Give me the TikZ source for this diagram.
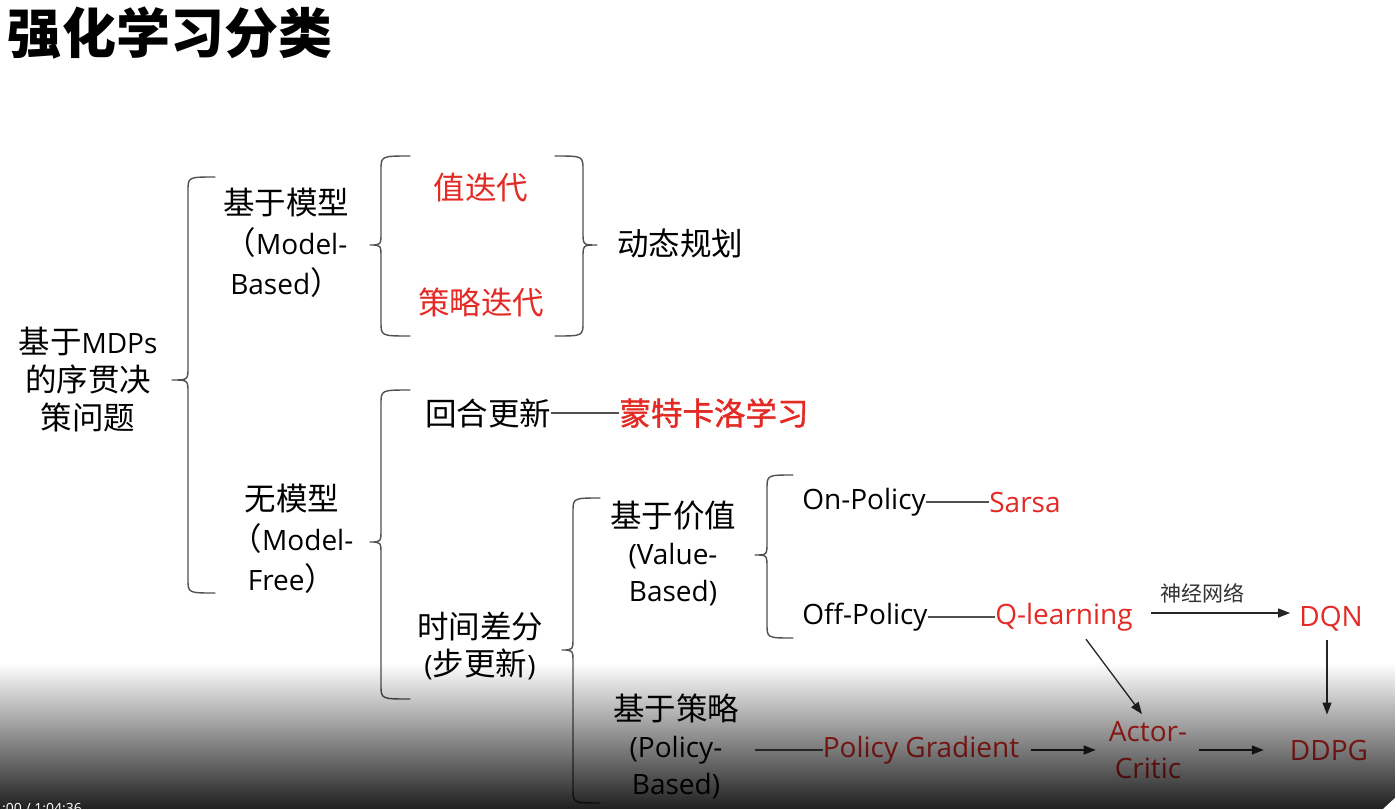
\documentclass[tikz,border=0pt]{standalone}
\usepackage{fontspec}
\setmainfont{Noto Sans CJK SC}
\newfontfamily\lat{Open Sans}
\newfontfamily\cjkb[FakeBold=1.2]{Noto Sans CJK SC}
\usetikzlibrary{arrows.meta,fadings}
\definecolor{myred}{RGB}{228,42,36}
\definecolor{linegray}{RGB}{80,80,80}
\tikzfading[name=vfade, top color=transparent!100, bottom color=transparent!12]
\newcommand\LT[1]{{\lat\fontsize{28}{40}\selectfont #1}}
% brace: tip x, vertical x, end x, top y, mid y, bottom y
\newcommand\mybrace[6]{%
  \draw[brc] (#3,#4) .. controls (#2,#4) .. ({#2},{#4+14}) -- ({#2},{#5-13})
    .. controls (#2,#5) .. (#1,#5) .. controls (#2,#5) .. ({#2},{#5+13})
    -- ({#2},{#6-14}) .. controls (#2,#6) .. (#3,#6);}
\begin{document}
\begin{tikzpicture}[x=1pt,y=-1pt,
  txt/.style={inner sep=0pt, align=center, font=\fontsize{31.5}{40}\selectfont},
  txtb/.style={txt, font=\fontsize{31.5}{37}\selectfont},
  redtxt/.style={txt, text=myred},
  lt/.style={inner sep=0pt, align=center, yshift=-2pt, font=\lat\fontsize{28}{37}\selectfont},
  redlt/.style={lt, text=myred},
  brc/.style={draw=linegray, line width=1.4pt, line join=round, line cap=round},
  conn/.style={draw=linegray, line width=1.2pt},
  arr/.style={draw=black!85, line width=1.3pt, -{Triangle[length=12pt,width=9pt]}}]
\useasboundingbox (0,0) rectangle (1396,809);
\fill[white] (0,0) rectangle (1396,809);

% title
\node[inner sep=0pt, font=\bfseries\fontsize{54}{54}\selectfont] (title) at (170,33) {强化学习分类};

% root
\node[txt, font=\fontsize{31.5}{38}\selectfont] (root) at (88,380) {基于\LT{MDPs}\\的序贯决\\策问题};
\mybrace{172}{188}{215}{177}{380}{593}

% model-based
\node[txt] (mb) at (286,243) {基于模型\\（\LT{Model-}\\\LT{Based}）};
\mybrace{370}{381}{410}{156}{245}{336}
\node[redtxt] (vi) at (481,188) {值迭代};
\node[redtxt] (pi) at (481,302) {策略迭代};
\mybrace{597}{583}{555}{156}{245}{336}
\node[txt] (dp) at (680,243) {动态规划};

% model-free
\node[txt] (mf) at (292,539) {无模型\\（\LT{Model-}\\\LT{Free}）};
\mybrace{370}{381}{410}{390}{542}{699}
\node[txt] (ep) at (488,413) {回合更新};
\node[redtxt, font=\cjkb\fontsize{31.5}{40}\selectfont] (mc) at (714,413) {蒙特卡洛学习};
\draw[conn] (ep.east) -- (mc.west);

\node[txtb] (td) at (480,646) {时间差分\\\LT{(}步更新\LT{)}};
\mybrace{562}{573}{600}{498}{650}{803}

% value based
\node[txtb] (vb) at (673,553) {基于价值\\\LT{(Value-}\\\LT{Based)}};
\mybrace{755}{767}{793}{475}{555}{638}
\node[lt] (on) at (864,500) {On-Policy};
\node[redlt] (sarsa) at (1025,500) {Sarsa};
\draw[conn] (on.east) -- (sarsa.west);
\node[lt] (off) at (865,615) {Off-Policy};
\node[redlt] (ql) at (1064,615) {Q-learning};
\draw[conn] (off.east) -- (ql.west);
\node[redlt] (dqn) at (1331,617) {DQN};
\draw[arr, shorten <=18pt, shorten >=9pt] ([yshift=4pt]ql.east) -- ([yshift=4pt]ql.east -| dqn.west) node[midway, above=9pt, xshift=-14pt, inner sep=0pt, font=\fontsize{21}{21}\selectfont, text=black!80] (nn) {神经网络};

% policy based
\node[txtb] (pb) at (676,746) {基于策略\\\LT{(Policy-}\\\LT{Based)}};
\node[redlt] (pg) at (921,748) {Policy Gradient};
\draw[conn, shorten <=16pt] (pb.east |- pg.west) -- (pg.west);
\node[redlt] (ac) at (1148,748) {Actor-\\Critic};
\node[redlt] (ddpg) at (1329,748) {DDPG};
\draw[arr, shorten <=12pt, shorten >=13pt] (pg.east) -- (pg.east -| ac.west);
\draw[arr, shorten <=12pt, shorten >=26pt] (ac.east |- ddpg.west) -- (ddpg.west);
\draw[arr, shorten <=8pt, shorten >=25pt] ([xshift=-4pt]dqn.south) -- ([xshift=-4pt]dqn.south |- ddpg.north);
\draw[arr] ([xshift=22pt,yshift=-8pt]ql.south) -- ([xshift=-6pt,yshift=7pt]ac.north);

% video overlay
\fill[black, path fading=vfade] (0,663) rectangle (1396,809);
\node[anchor=base west, text=white, inner sep=0pt, font=\lat\fontsize{14}{14}\selectfont] (ts) at (2,813) {:00 / 1:04:36};
\fill[white] (1383,809) -- (1396,797) -- (1396,809) -- cycle;
\end{tikzpicture}
\end{document}
